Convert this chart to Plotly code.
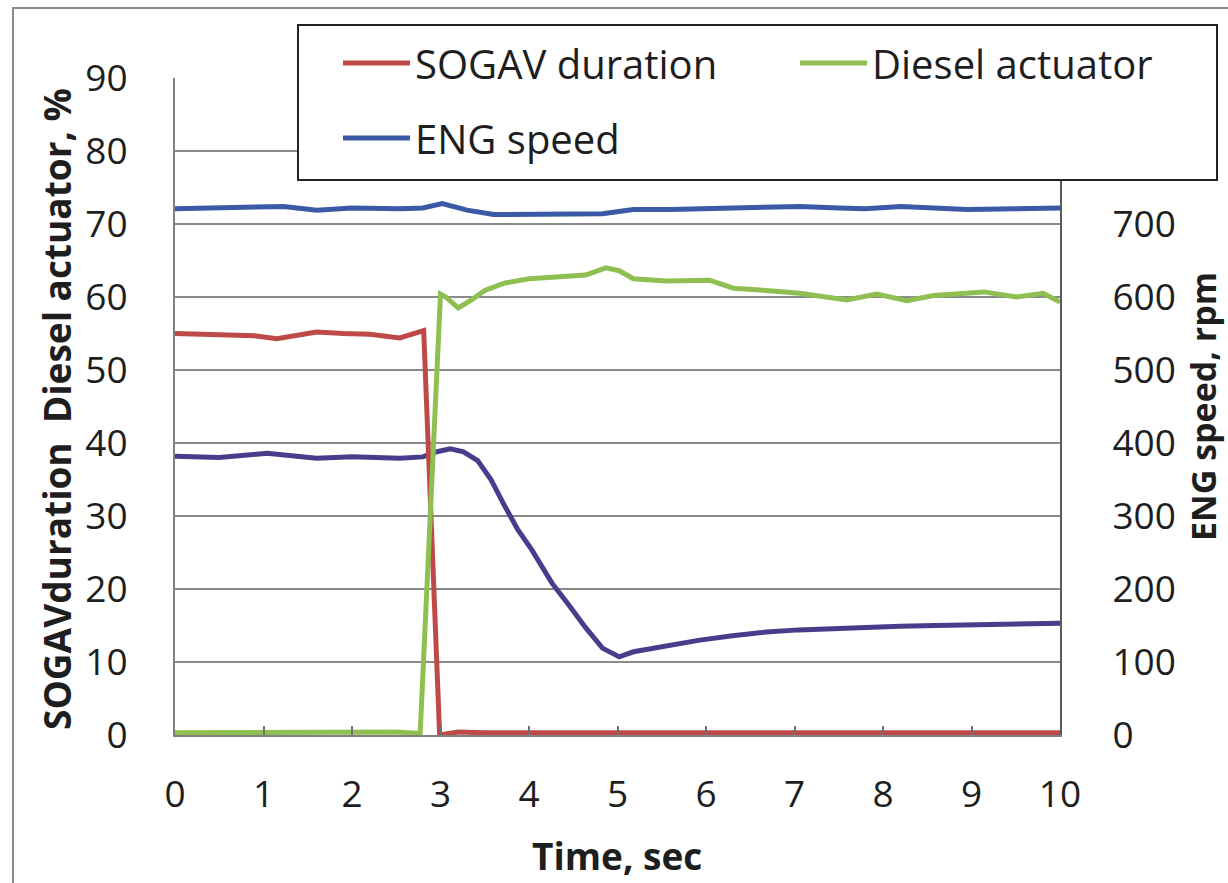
import plotly.graph_objects as go

# ---------------- data ----------------
t_sogav = [0, 0.3, 0.6, 0.9, 1.15, 1.4, 1.6, 1.9, 2.2, 2.54, 2.73, 2.81, 2.99, 3.08, 3.2, 3.5, 4.0, 5.0, 6.0, 7.0, 8.0, 9.0, 10.0]
sogav = [55.0, 54.9, 54.8, 54.7, 54.3, 54.8, 55.2, 55.0, 54.9, 54.4, 55.2, 55.4, 0.0, 0.2, 0.4, 0.3, 0.3, 0.3, 0.3, 0.3, 0.3, 0.3, 0.3]

t_diesel = [0, 0.5, 1.0, 1.5, 2.0, 2.5, 2.77, 3.0, 3.06, 3.2, 3.35, 3.5, 3.72, 4.0, 4.26, 4.64, 4.87, 5.02,
            5.18, 5.55, 6.04, 6.31, 6.68, 7.06, 7.59, 7.93, 8.27, 8.57, 9.14, 9.51, 9.81, 10.0]
diesel = [0.3, 0.3, 0.4, 0.3, 0.3, 0.4, 0.2, 60.4, 60.0, 58.5, 59.6, 60.9, 61.9, 62.5, 62.7, 63.0, 64.0, 63.6,
          62.5, 62.2, 62.3, 61.2, 60.9, 60.5, 59.6, 60.4, 59.5, 60.2, 60.7, 60.0, 60.5, 59.3]

t_eng = [0, 0.5, 1.0, 1.23, 1.6, 2.0, 2.54, 2.8, 3.02, 3.3, 3.6, 4.2, 4.83, 5.18, 5.6, 6.31, 7.06, 7.5, 7.8, 8.2, 8.95, 9.5, 10.0]
eng_speed = [721, 722, 723, 724, 719, 722, 721, 722, 728, 719, 713, 713, 714, 720, 720, 722, 724, 722, 721, 724, 720, 721, 722]

t_other = [0, 0.5, 1.04, 1.6, 2.0, 2.54, 2.8, 2.96, 3.11, 3.26, 3.42, 3.57, 3.72, 3.87, 4.03, 4.26, 4.45,
           4.64, 4.83, 5.02, 5.18, 5.5, 5.93, 6.3, 6.68, 7.05, 7.44, 7.8, 8.19, 8.6, 8.95, 9.5, 10.0]
other = [38.2, 38.0, 38.6, 37.9, 38.1, 37.9, 38.1, 38.8, 39.2, 38.8, 37.6, 35.0, 31.5, 28.2, 25.4, 20.8, 17.8,
         14.7, 11.9, 10.7, 11.4, 12.1, 13.0, 13.6, 14.1, 14.4, 14.6, 14.8, 14.9, 15.0, 15.1, 15.2, 15.3]

x_ticks = list(range(0, 11))
y_left_ticks = list(range(0, 100, 10))
y_right_ticks = list(range(0, 800, 100))

FONT = "Open Sans"
TXT = "#1e1e1e"

# ---------------- figure ----------------
fig = go.Figure()

fig.add_trace(go.Scatter(x=t_other, y=other, mode="lines", showlegend=False,
                         line=dict(color="#483d8b", width=5)))
fig.add_trace(go.Scatter(x=t_sogav, y=sogav, mode="lines", name="SOGAV duration",
                         line=dict(color="#bd4a47", width=5), legend="legend"))
fig.add_trace(go.Scatter(x=t_diesel, y=diesel, mode="lines", name="Diesel actuator",
                         line=dict(color="#8fbf50", width=5), legend="legend3"))
fig.add_trace(go.Scatter(x=t_eng, y=eng_speed, mode="lines", name="ENG speed", yaxis="y2",
                         line=dict(color="#3a5aa6", width=5), legend="legend2"))

L, R, T, B = 175, 168, 78, 148
W, H = 1228, 883
pw, ph = W - L - R, H - T - B


def px(x):
    return (x - L) / pw


def py(y):
    return (H - B - y) / ph


leg_common = dict(bgcolor="rgba(0,0,0,0)", borderwidth=0, font=dict(family=FONT, size=40, color=TXT),
                  xanchor="left", yanchor="middle", itemwidth=67, orientation="h")

fig.update_layout(
    width=W, height=H,
    margin=dict(l=L, r=R, t=T, b=B),
    paper_bgcolor="white", plot_bgcolor="white",
    font=dict(family=FONT, color=TXT),
    xaxis=dict(range=[0, 10], tickvals=x_ticks, ticks="inside", ticklen=9, tickwidth=1.5,
               tickcolor="#707070", showline=True, linecolor="#808080", linewidth=2,
               showgrid=False, zeroline=False, tickfont=dict(size=37, color=TXT),
               ticklabelstandoff=26),
    yaxis=dict(range=[0, 90], tickvals=y_left_ticks, showgrid=True, gridcolor="#8a8a8a", gridwidth=2,
               showline=True, linecolor="#808080", linewidth=2, zeroline=False, ticks="",
               tickfont=dict(size=37, color=TXT), ticklabelstandoff=38),
    yaxis2=dict(range=[0, 900], tickvals=y_right_ticks, overlaying="y", side="right", showgrid=False,
                showline=True, linecolor="#5a5a5a", linewidth=2, zeroline=False, ticks="",
                tickfont=dict(size=37, color=TXT), ticklabelstandoff=43),
    legend=dict(x=px(338), y=py(63), **leg_common),
    legend2=dict(x=px(338), y=py(138), **leg_common),
    legend3=dict(x=px(795), y=py(63), **leg_common),
    shapes=[
        dict(type="rect", xref="paper", yref="paper", x0=px(13), x1=1.3, y0=-0.3, y1=py(8),
             line=dict(color="#8a8a8a", width=2), fillcolor="rgba(0,0,0,0)", layer="below"),
        dict(type="rect", xref="paper", yref="paper", x0=px(298), x1=px(1217), y0=py(180), y1=py(25),
             line=dict(color="#222222", width=2), fillcolor="white", layer="above"),
    ],
    annotations=[
        dict(text="<b>SOGAVduration  Diesel actuator, %</b>", xref="paper", yref="paper",
             x=px(56), y=py(409), textangle=-90, showarrow=False, xanchor="center", yanchor="middle",
             font=dict(family=FONT, size=37, color=TXT)),
        dict(text="<b>ENG speed, rpm</b>", xref="paper", yref="paper",
             x=px(1203), y=py(407), textangle=-90, showarrow=False, xanchor="center", yanchor="middle",
             font=dict(family=FONT, size=34, color=TXT)),
        dict(text="<b>Time, sec</b>", xref="paper", yref="paper",
             x=px(617), y=py(855), showarrow=False, xanchor="center", yanchor="middle",
             font=dict(family=FONT, size=37, color=TXT)),
    ],
)

fig.write_html("out.html")
